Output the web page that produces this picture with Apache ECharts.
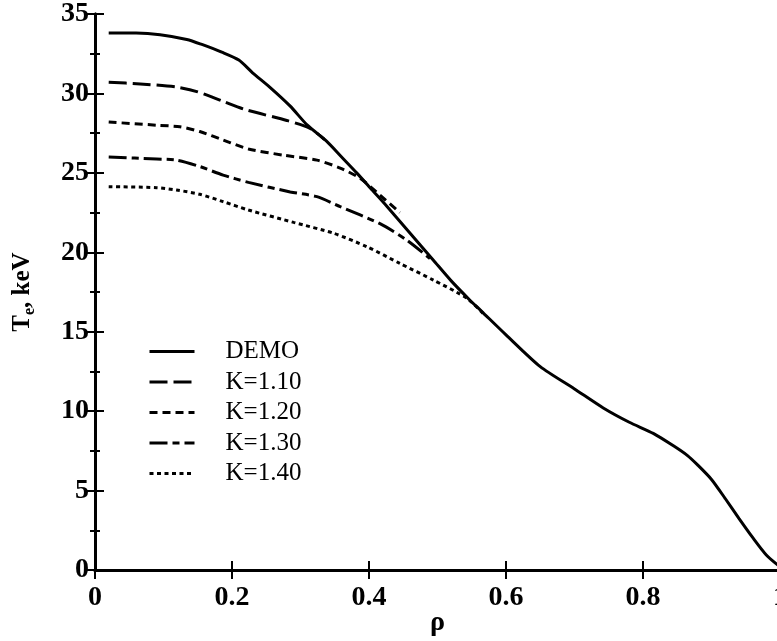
<!DOCTYPE html>
<html>
<head>
<meta charset="utf-8">
<script src="https://cdn.jsdelivr.net/npm/echarts@6/dist/echarts.min.js"></script>
<style>
  html, body { margin: 0; padding: 0; background: #fff; }
  #chart { width: 777px; height: 641px; }
</style>
</head>
<body>
<div id="chart"></div>
<script>
// Electron temperature profiles T_e(rho)
const seriesNames = ['DEMO', 'K=1.10', 'K=1.20', 'K=1.30', 'K=1.40'];

const demo = [
  [0.02, 33.8], [0.06, 33.8], [0.095, 33.7], [0.134, 33.4], [0.155, 33.1],
  [0.185, 32.6], [0.21, 32.1], [0.23, 31.3], [0.255, 30.4], [0.285, 29.2],
  [0.31, 28.0], [0.338, 27.0], [0.36, 26.0], [0.382, 25.0], [0.405, 23.9],
  [0.426, 22.9], [0.46, 21.2], [0.494, 19.5], [0.52, 18.2], [0.547, 17.0],
  [0.564, 16.3], [0.6, 14.8], [0.65, 12.8], [0.7, 11.4], [0.742, 10.2],
  [0.78, 9.3], [0.815, 8.6], [0.845, 7.8], [0.865, 7.2], [0.88, 6.6],
  [0.9, 5.7], [0.92, 4.5], [0.94, 3.25], [0.96, 2.05], [0.98, 0.95], [1.0, 0.2]
];

const k110 = [
  [0.02, 30.7], [0.066, 30.6], [0.119, 30.4], [0.15, 30.1], [0.187, 29.5],
  [0.221, 28.96], [0.28, 28.3], [0.314, 27.8], [0.335, 27.1]
];

const k120 = [
  [0.02, 28.2], [0.09, 28.0], [0.124, 27.9], [0.153, 27.6], [0.187, 27.07],
  [0.224, 26.5], [0.277, 26.1], [0.324, 25.8], [0.358, 25.3], [0.387, 24.66],
  [0.416, 23.6], [0.445, 22.5]
];

const k130 = [
  [0.02, 26.0], [0.09, 25.87], [0.119, 25.8], [0.153, 25.4], [0.187, 24.86],
  [0.224, 24.4], [0.285, 23.8], [0.324, 23.5], [0.358, 22.87], [0.416, 21.8],
  [0.455, 20.77], [0.489, 19.6]
];

const k140 = [
  [0.02, 24.13], [0.09, 24.07], [0.119, 23.92], [0.153, 23.65], [0.187, 23.19],
  [0.224, 22.66], [0.29, 21.88], [0.348, 21.2], [0.397, 20.35], [0.445, 19.3],
  [0.494, 18.25], [0.543, 17.1], [0.57, 16.0]
];

const xTicks = [0, 0.2, 0.4, 0.6, 0.8, 1];
const yTicks = [0, 5, 10, 15, 20, 25, 30, 35];

const serif = '"Liberation Serif", "Times New Roman", serif';
const dashes = {
  'DEMO': 'solid',
  'K=1.10': [18, 6],
  'K=1.20': [8, 5],
  'K=1.30': [18, 5, 7, 5],
  'K=1.40': [4, 3.5]
};
const dataSets = [demo, k110, k120, k130, k140];

const axisLine = { show: true, lineStyle: { color: '#000', width: 3 } };
const tickStyle = { color: '#000', width: 2 };

const chart = echarts.init(document.getElementById('chart'));
chart.setOption({
  animation: false,
  backgroundColor: '#fff',
  grid: {
    left: 95, top: 14, right: -3, bottom: 71,
    containLabel: false, outerBoundsMode: 'none'
  },
  legend: {
    orient: 'vertical',
    left: 148,
    top: 339,
    padding: 0,
    itemWidth: 45,
    itemHeight: 14,
    itemGap: 5.5,
    data: seriesNames,
    itemStyle: { color: 'transparent', borderWidth: 0, opacity: 0 },
    lineStyle: { width: 3 },
    textStyle: {
      fontFamily: serif, fontSize: 25, color: '#000', lineHeight: 25,
      padding: [0, 0, 0, 26]
    }
  },
  xAxis: [{
    type: 'value', min: xTicks[0], max: xTicks[xTicks.length - 1], interval: 0.2,
    axisLine: axisLine,
    axisTick: { inside: true, length: 9, lineStyle: tickStyle },
    axisLabel: {
      fontFamily: serif, fontWeight: 'bold', fontSize: 28, color: '#000', margin: 14,
      formatter: v => String(+v.toFixed(1))
    },
    splitLine: { show: false },
    name: 'ρ', nameLocation: 'middle', nameGap: 39, nameMoveOverlap: false,
    nameTextStyle: { fontFamily: serif, fontWeight: 'bold', fontSize: 28, color: '#000' }
  }, {
    type: 'value', position: 'top', min: 0, max: 1, interval: 0.2,
    axisLine: axisLine,
    axisTick: { inside: true, length: 9, lineStyle: tickStyle },
    axisLabel: { show: false }, splitLine: { show: false }
  }],
  yAxis: [{
    type: 'value', min: yTicks[0], max: yTicks[yTicks.length - 1], interval: 5,
    axisLine: axisLine,
    axisTick: { inside: true, length: 9, lineStyle: tickStyle },
    minorTick: { show: true, splitNumber: 2, length: 5, lineStyle: tickStyle },
    axisLabel: { fontFamily: serif, fontWeight: 'bold', fontSize: 28, color: '#000', margin: 6 },
    splitLine: { show: false },
    name: '{t|T}{s|e}{t|, keV}', nameLocation: 'middle', nameGap: 57, nameRotate: 90,
    nameTextStyle: {
      rich: {
        t: { fontFamily: serif, fontWeight: 'bold', fontSize: 25, color: '#000', lineHeight: 30 },
        s: { fontFamily: serif, fontWeight: 'bold', fontSize: 16, color: '#000', lineHeight: 30, verticalAlign: 'bottom', padding: [10, 0, 0, 0] }
      }
    }
  }, {
    type: 'value', position: 'right', min: 0, max: 35, interval: 5,
    axisLine: axisLine,
    axisTick: { inside: true, length: 9, lineStyle: tickStyle },
    minorTick: { show: true, splitNumber: 2, length: 5, lineStyle: tickStyle },
    axisLabel: { show: false }, splitLine: { show: false }
  }],
  series: seriesNames.map((name, i) => ({
    name: name,
    type: 'line',
    data: dataSets[i],
    smooth: 0.25,
    symbol: 'none',
    legendIcon: 'none',
    z: 10 - i,
    color: '#000',
    lineStyle: { color: '#000', width: 3, type: dashes[name] }
  }))
});
</script>
</body>
</html>
